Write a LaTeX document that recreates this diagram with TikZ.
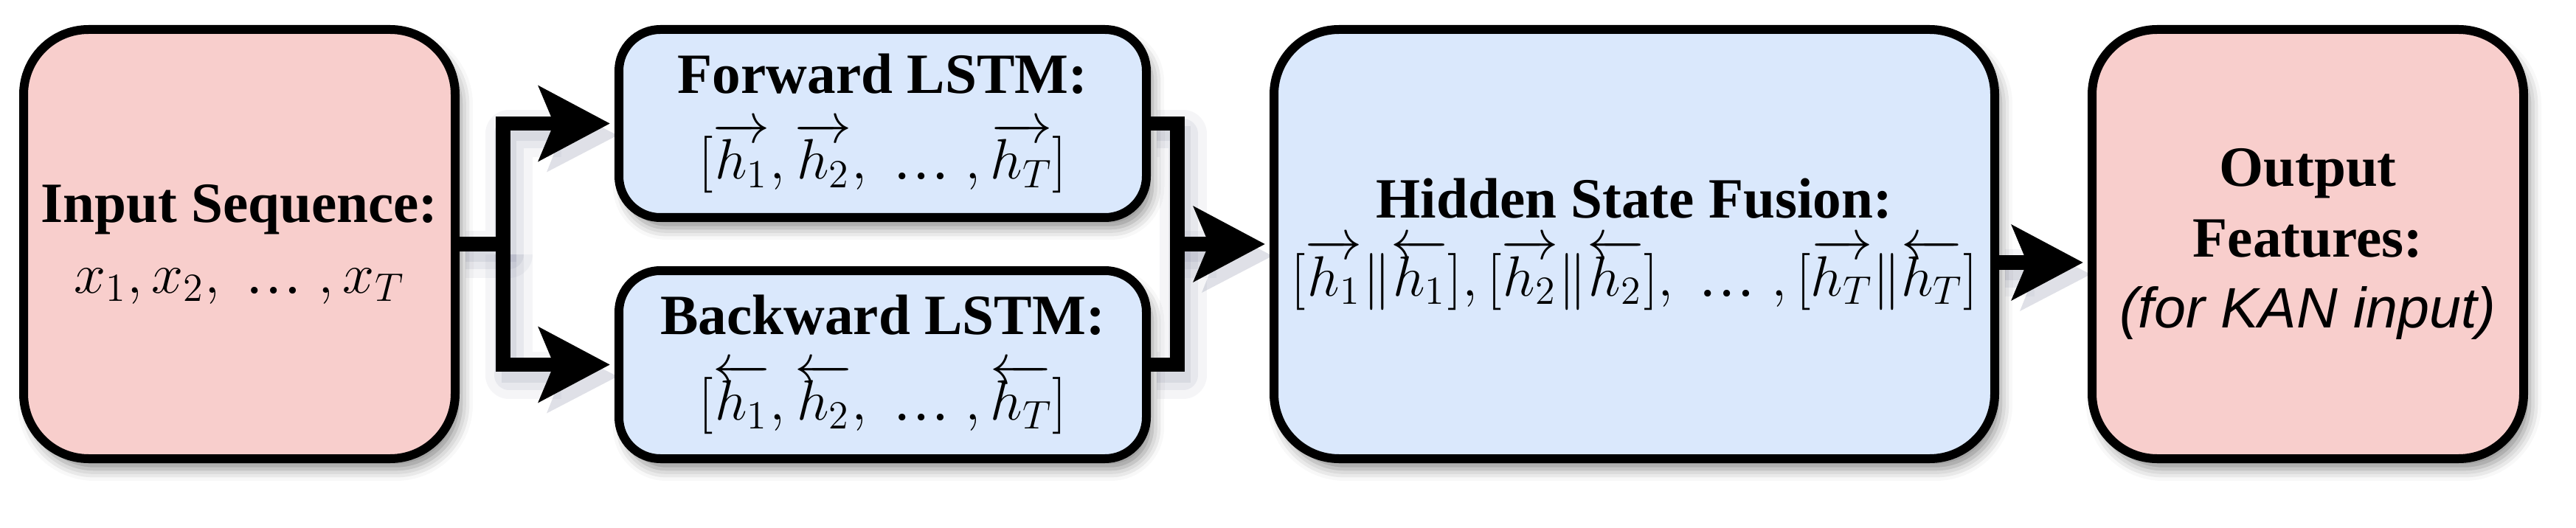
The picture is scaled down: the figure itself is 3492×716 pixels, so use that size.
\RequirePackage{fix-cm}
\documentclass[tikz,border=0pt]{standalone}
\usepackage{fontspec}
\setmainfont{Liberation Serif}
\newfontfamily\arialfont{Liberation Sans}
\usetikzlibrary{arrows.meta,shadows.blur,calc,backgrounds}
\definecolor{pinkfill}{HTML}{F8CECC}
\definecolor{bluefill}{HTML}{DAE8FC}
\definecolor{shadowcol}{HTML}{6E7390}
\newcommand{\mydots}{\;\mbox{\normalfont …}\;}
\tikzset{
  box/.style={draw=black, line width=3pt, align=center, inner sep=0pt,
    font=\fontsize{19.3}{24}\selectfont,
    blur shadow={shadow xshift=2pt, shadow yshift=-3.5pt, shadow blur radius=4pt, shadow opacity=45}},
  bigbox/.style={box, rounded corners=22pt, minimum width=146.25pt, minimum height=145.5pt},
  lstmbox/.style={box, rounded corners=14pt, minimum width=178.75pt, minimum height=63.75pt, fill=bluefill},
  tipshape/.style={-{Stealth[length=24pt,width=25pt,inset=5pt]}},
  plainline/.style={line width=4.9pt},
  conn/.style={line width=4.9pt, shorten >=1.5pt, tipshape},
  csha/.style={draw=shadowcol, opacity=0.07, line width=16pt, line join=round, transform canvas={shift={(2pt,-3.5pt)}}},
  cshb/.style={draw=shadowcol, opacity=0.10, line width=10pt, line join=round, transform canvas={shift={(2pt,-3.5pt)}}},
  cshc/.style={draw=shadowcol, opacity=0.12, line width=5pt, transform canvas={shift={(2pt,-3.5pt)}}},
}
\begin{document}
\begin{tikzpicture}[x=0.25pt,y=-0.25pt]
\useasboundingbox (0,0) rectangle (3492,716);
\node[bigbox, fill=pinkfill] (inp) at (324.5,331)
  {\textbf{Input Sequence:}\\ $x_1,x_2,\mydots,x_T$};
\node[lstmbox] (fwd) at (1196.5,167.5)
  {\textbf{Forward LSTM:}\\[5pt] $[\overrightarrow{h_1},\overrightarrow{h_2},\mydots,\overrightarrow{h_T}]$};
\node[lstmbox] (bwd) at (1196.5,494.5)
  {\textbf{Backward LSTM:}\\[5pt] $[\overleftarrow{h_1},\overleftarrow{h_2},\mydots,\overleftarrow{h_T}]$};
\node[box, rounded corners=22pt, minimum width=244.25pt, minimum height=145.5pt, fill=bluefill] (fus) at (2215.5,331)
  {\textbf{Hidden State Fusion:}\\[2.5pt] $[\overrightarrow{h_1}\|\overleftarrow{h_1}],[\overrightarrow{h_2}\|\overleftarrow{h_2}],\mydots,[\overrightarrow{h_T}\|\overleftarrow{h_T}]$};
\node[bigbox, fill=pinkfill] (out) at (3128.5,331)
  {\textbf{Output}\\ \textbf{Features:}\\ {\arialfont\itshape (for KAN input)}};
\coordinate (split) at (682,331);
\coordinate (merge) at (1596,331);
% soft shadows of the connectors, behind the boxes
\begin{pgfonlayer}{background}
\foreach \s in {csha,cshb,cshc}{
  \draw[\s] (inp.east) -- (split) |- ([xshift=-20pt]fwd.west);
  \draw[\s] (split) |- ([xshift=-20pt]bwd.west);
  \draw[\s] (fwd.east) -| (merge) |- (bwd.east);
  \draw[\s] (merge) -- ([xshift=-20pt]fus.west);
  \draw[\s] ([yshift=-6.25pt]fus.east) -- ([yshift=-6.25pt,xshift=-20pt]out.west);
}
\foreach \p in {fwd.west,bwd.west,fus.west}{
  \fill[shadowcol, opacity=0.22, transform canvas={shift={(2.5pt,-4pt)}}]
    ($(\p)+(-1.5pt,0)$) -- ++(-24pt,12.5pt) -- ++(5pt,-12.5pt) -- ++(-5pt,-12.5pt) -- cycle;
}
\fill[shadowcol, opacity=0.22, transform canvas={shift={(2.5pt,-4pt)}}]
  ($([yshift=-6.25pt]out.west)+(-1.5pt,0)$) -- ++(-24pt,12.5pt) -- ++(5pt,-12.5pt) -- ++(-5pt,-12.5pt) -- cycle;
\end{pgfonlayer}
\draw[conn] (inp.east) -- (split) |- (fwd.west);
\draw[conn] (split) |- (bwd.west);
\draw[plainline] (fwd.east) -| (merge);
\draw[plainline] (bwd.east) -| (merge);
\draw[conn] (merge) -- (fus.west);
\draw[conn] ([yshift=-6.25pt]fus.east) -- ([yshift=-6.25pt]out.west);
\end{tikzpicture}
\end{document}
